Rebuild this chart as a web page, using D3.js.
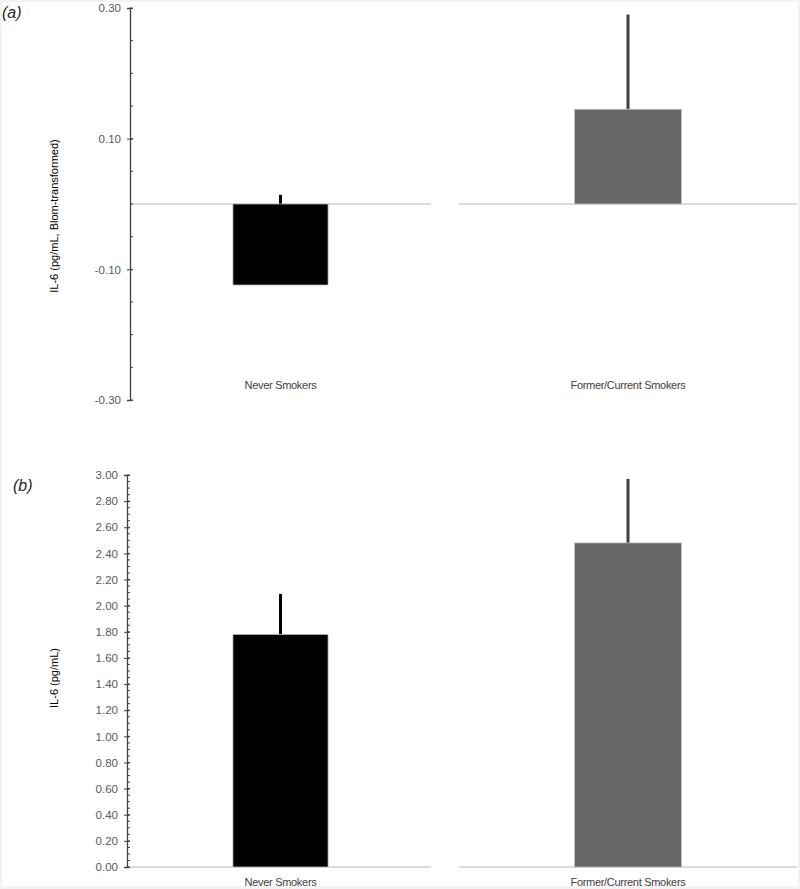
<!DOCTYPE html>
<html>
<head>
<meta charset="utf-8">
<script src="https://cdn.jsdelivr.net/npm/d3@7"></script>
<style>
  html, body { margin: 0; padding: 0; background: #f3f3f3; }
  svg { display: block; font-family: "Liberation Sans", Arial, sans-serif; }
</style>
</head>
<body>
<svg id="chart" width="800" height="889"></svg>
<script>
// data
const categories = ['Never Smokers', 'Former/Current Smokers'];
const barColors = ['#000000', '#666666'];
const errColors = ['#000000', '#404040'];

// panel (a): Blom-transformed IL-6
const blomValues = [-0.124, 0.145];
const blomErrTop = [0.014, 0.29];
const blomTicks = [-0.30, -0.10, 0.10, 0.30];

// panel (b): raw IL-6
const rawValues = [1.78, 2.48];
const rawErrTop = [2.09, 2.97];
const rawTicks = [0, 0.2, 0.4, 0.6, 0.8, 1.0, 1.2, 1.4, 1.6, 1.8, 2.0, 2.2, 2.4, 2.6, 2.8, 3.0];

const svg = d3.select('#chart');
svg.append('rect').attr('x', 2).attr('y', 2).attr('width', 796).attr('height', 884).attr('fill', '#fff');

// each category gets its own baseline segment
const segments = d3.scaleOrdinal().domain(categories).range([[130, 431], [459, 797]]);
const barFrac = 0.316;
const fmt = d => d3.format('.2f')(d).replace('\u2212', '-');

function drawPanel(opt) {
  const g = svg.append('g');
  const y = d3.scaleLinear().domain(opt.domain).range(opt.range);
  const axisX = opt.axisX;

  // baseline pieces
  categories.forEach(c => {
    const [a, b] = segments(c);
    g.append('line')
      .attr('x1', a).attr('x2', b)
      .attr('y1', y(opt.base)).attr('y2', y(opt.base))
      .attr('stroke', '#d0d0d0').attr('stroke-width', 1.5);
  });

  // error bars (drawn under the bars)
  categories.forEach((c, i) => {
    const [a, b] = segments(c);
    const cx = (a + b) / 2;
    g.append('line')
      .attr('x1', cx).attr('x2', cx)
      .attr('y1', y(opt.values[i])).attr('y2', y(opt.errTop[i]))
      .attr('stroke', errColors[i]).attr('stroke-width', 3);
  });

  // bars
  categories.forEach((c, i) => {
    const [a, b] = segments(c);
    const w = (b - a) * barFrac;
    const cx = (a + b) / 2;
    const y0 = y(opt.base), y1 = y(opt.values[i]);
    g.append('rect')
      .attr('x', cx - w / 2).attr('width', w)
      .attr('y', Math.min(y0, y1)).attr('height', Math.abs(y1 - y0))
      .attr('fill', barColors[i])
      .attr('stroke', '#bfbfbf').attr('stroke-width', 0.75);
  });

  // y axis
  const axis = d3.axisLeft(y).tickValues(opt.ticks)
    .tickFormat(fmt).tickSize(3).tickPadding(6);
  const ax = g.append('g').attr('transform', `translate(${axisX},0)`).call(axis);
  ax.select('.domain').attr('stroke', '#404040').attr('stroke-width', 1.3);
  ax.selectAll('.tick line').attr('stroke', '#404040').attr('x2', -3).attr('x1', 3);
  ax.selectAll('.tick text').attr('fill', '#595959').style('font-size', '11.5px');

  // minor ticks
  const minor = d3.range(opt.domain[0], opt.domain[1] + 1e-9, opt.minorStep);
  g.append('g').selectAll('line').data(minor).join('line')
    .attr('x1', axisX).attr('x2', axisX + 3)
    .attr('y1', d => y(d)).attr('y2', d => y(d))
    .attr('stroke', '#404040').attr('stroke-width', 1);

  // category labels
  categories.forEach(c => {
    const [a, b] = segments(c);
    g.append('text')
      .attr('x', (a + b) / 2).attr('y', opt.labelY)
      .attr('text-anchor', 'middle')
      .attr('fill', '#404040').style('font-size', '11px')
      .style('letter-spacing', '-0.3px')
      .text(c);
  });

  // y title
  g.append('text')
    .attr('transform', `translate(${opt.titleX},${opt.titleY}) rotate(-90)`)
    .attr('text-anchor', 'middle')
    .attr('fill', '#000').style('font-size', '11px')
    .text(opt.title);

  // panel letter
  g.append('text')
    .attr('x', opt.letterX).attr('y', opt.letterY)
    .attr('fill', '#262626').style('font-size', '16px').style('font-style', 'italic')
    .text(opt.letter);
}

drawPanel({
  domain: [-0.3, 0.3], range: [400, 8], base: 0,
  values: blomValues, errTop: blomErrTop, ticks: blomTicks, minorStep: 0.05,
  axisX: 130, labelY: 389, title: 'IL-6 (pg/mL, Blom-transformed)',
  titleX: 58, titleY: 216, letter: '(a)', letterX: 2, letterY: 18
});

drawPanel({
  domain: [0, 3], range: [867, 475], base: 0,
  values: rawValues, errTop: rawErrTop, ticks: rawTicks, minorStep: 0.05,
  axisX: 127, labelY: 886, title: 'IL-6 (pg/mL)',
  titleX: 58, titleY: 678, letter: '(b)', letterX: 13, letterY: 491
});
</script>
</body>
</html>
